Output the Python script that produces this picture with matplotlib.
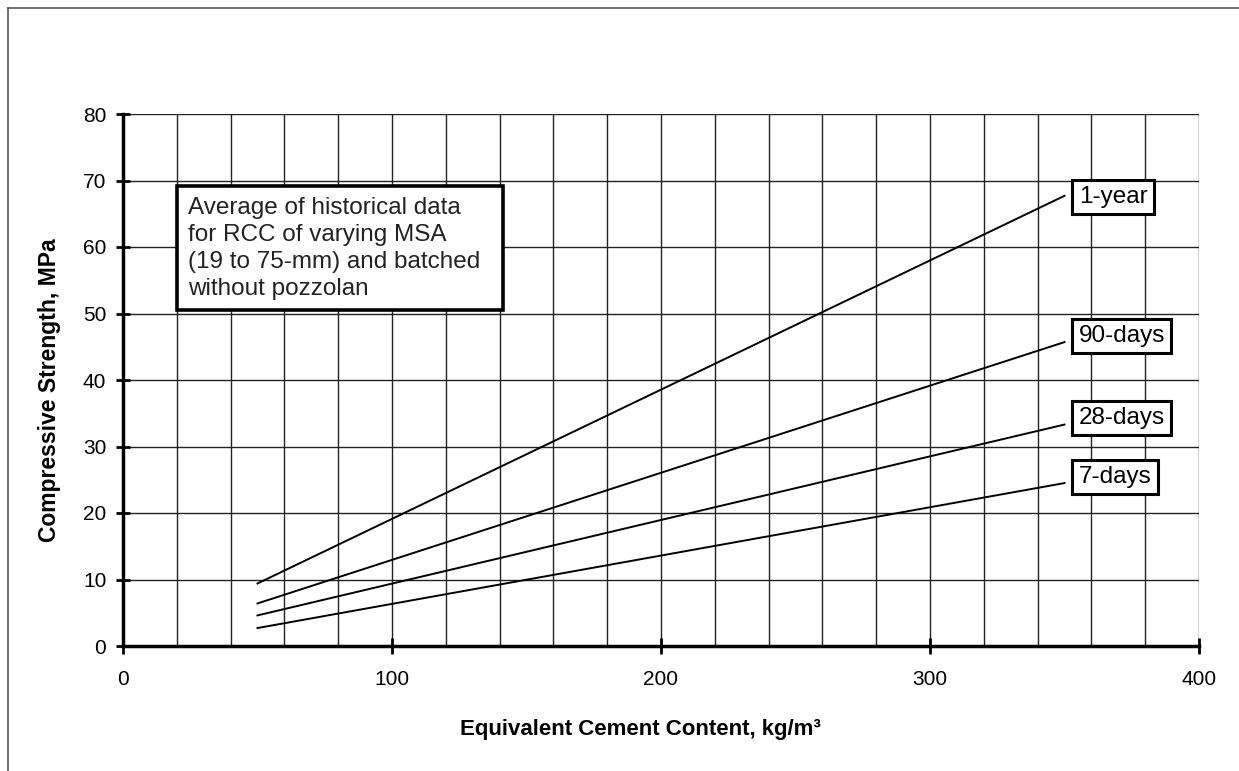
import matplotlib
matplotlib.use("Agg")
import matplotlib.pyplot as plt
from matplotlib.patches import Rectangle
from matplotlib.lines import Line2D

plt.rcParams['font.family'] = ['Liberation Sans', 'DejaVu Sans']

# Data
cement = [50, 350]
series_names = ["1-year", "90-days", "28-days", "7-days"]
one_year = [9.4, 67.7]
days_90 = [6.4, 45.7]
days_28 = [4.6, 33.3]
days_7 = [2.7, 24.5]
label_y = [67.5, 46.6, 34.3, 25.4]
x_ticks = [0, 100, 200, 300, 400]
y_ticks = [0, 10, 20, 30, 40, 50, 60, 70, 80]
note = ("Average of historical data\nfor RCC of varying MSA\n"
        "(19 to 75-mm) and batched\nwithout pozzolan")

W, H = 1239, 771
fig = plt.figure(figsize=(W / 100, H / 100), dpi=100)
ax = fig.add_axes([123 / W, 1 - 646 / H, 1076 / W, 532 / H])

# figure border lines (top and left)
fig.add_artist(Line2D([8 / W, 1], [1 - 8 / H, 1 - 8 / H], color='#555555', lw=1.2,
                      transform=fig.transFigure))
fig.add_artist(Line2D([8 / W, 8 / W], [0, 1 - 8 / H], color='#555555', lw=1.2,
                      transform=fig.transFigure))

ax.set_xlim(0, 400)
ax.set_ylim(0, 80)

# grid
for gx in range(20, 401, 20):
    ax.axvline(gx, color='#222222', lw=1.0, zorder=1)
for gy in range(10, 81, 10):
    ax.axhline(gy, color='#222222', lw=1.0, zorder=1)

for vals in [one_year, days_90, days_28, days_7]:
    ax.plot(cement, vals, color='black', lw=1.4, zorder=3)

for name, ly in zip(series_names, label_y):
    ax.text(355.3, ly, name, fontsize=17.5, va='center', ha='left', zorder=5,
            bbox=dict(boxstyle='square,pad=0.26', fc='white', ec='black', lw=2.2))

# note box
ax.add_patch(Rectangle((20.2, 50.6), 121.0, 18.6, fc='white', ec='black', lw=2.6, zorder=4))
ax.text(24.0, 67.5, note, fontsize=17.5, va='top', ha='left', linespacing=1.3, zorder=5,
        color='#222222')

for s in ['top', 'right']:
    ax.spines[s].set_visible(False)
ax.spines['left'].set_linewidth(2.5)
ax.spines['bottom'].set_linewidth(2.5)
ax.spines['left'].set_zorder(6)
ax.spines['bottom'].set_zorder(6)

ax.set_xticks(x_ticks)
ax.set_yticks(y_ticks)
ax.tick_params(axis='x', direction='inout', length=11, width=2, pad=12, labelsize=15)
ax.tick_params(axis='y', direction='inout', length=10, width=2, pad=7, labelsize=15)

ax.set_xlabel("Equivalent Cement Content, kg/m\u00b3", fontsize=16, fontweight='bold')
ax.xaxis.set_label_coords(0.481, -0.137)
ax.set_ylabel("Compressive Strength, MPa", fontsize=16.5, fontweight='bold')
ax.yaxis.set_label_coords(-0.058, 0.48)

fig.savefig("out.png", dpi=100, facecolor='white')
